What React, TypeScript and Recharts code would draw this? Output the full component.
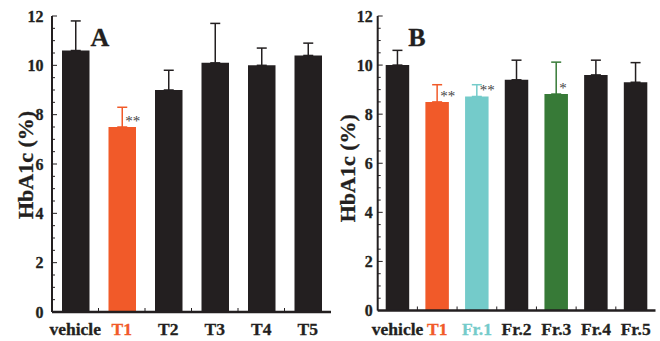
import React from 'react';
import { BarChart, Bar, XAxis, YAxis, ErrorBar, LabelList } from 'recharts';

// ---------- data ----------
const catsA = ['vehicle', 'T1', 'T2', 'T3', 'T4', 'T5'];
const meanA = [10.6, 7.5, 9.0, 10.1, 10.0, 10.4];
const errA = [1.2, 0.8, 0.8, 1.6, 0.7, 0.5];
const barColorA = ['k', 'o', 'k', 'k', 'k', 'k'];
const labelColorA = ['k', 'o', 'k', 'k', 'k', 'k'];
const sigA = ['', '**', '', '', '', ''];

const catsB = ['vehicle', 'T1', 'Fr.1', 'Fr.2', 'Fr.3', 'Fr.4', 'Fr.5'];
const meanB = [10.0, 8.5, 8.72, 9.4, 8.82, 9.6, 9.3];
const errB = [0.6, 0.7, 0.48, 0.8, 1.3, 0.6, 0.8];
const barColorB = ['k', 'o', 'c', 'k', 'g', 'k', 'k'];
const labelColorB = ['k', 'o', 'c', 'k', 'k', 'k', 'k'];
const sigB = ['', '**', '**', '', '*', '', ''];

const yTicks = [0, 0.5, 1, 1.5, 2, 2.5, 3, 3.5, 4, 4.5, 5, 5.5, 6, 6.5, 7, 7.5, 8, 8.5, 9, 9.5, 10, 10.5, 11, 11.5, 12];
const majorTicks = [0, 2, 4, 6, 8, 10, 12];

const COLORS: Record<string, string> = {
  k: '#231f20',
  o: '#f15a29',
  c: '#74cbca',
  g: '#377a37',
};

const FONT = "'Liberation Serif', 'Times New Roman', serif";

type PanelProps = {
  cats: string[];
  means: number[];
  errs: number[];
  barColors: string[];
  labelColors: string[];
  sigs: string[];
  letter: string;
  width: number;
  margin: { top: number; right: number; left: number; bottom: number };
  barSize: number;
  tickGap: number;
  titleDx: number;
  titleDy: number;
  letterX: number;
  xLabelDy: number;
};

function Panel(p: PanelProps) {
  const height = 341;
  const groups = Array.from(new Set(p.barColors));
  const data = p.cats.map((c, i) => {
    const row: any = { name: c, sig: p.sigs[i] };
    groups.forEach((g) => {
      if (p.barColors[i] === g) {
        row[g] = p.means[i];
        row[g + 'Err'] = [0, p.errs[i]];
      }
    });
    return row;
  });
  const yAxisW = 40;
  const plotW = p.width - p.margin.left - p.margin.right - yAxisW;
  const band = plotW / p.cats.length;

  const YTick = (props: any) => {
    const { x, y, payload } = props;
    const v = payload.value;
    const major = majorTicks.includes(v);
    return (
      <g>
        <line x1={x} x2={x + (major ? 5 : 3)} y1={y} y2={y} stroke="#231f20" strokeWidth={1} />
        {major && (
          <text
            x={x - p.tickGap}
            y={y + 5.5}
            textAnchor="end"
            fontFamily={FONT}
            fontWeight="bold"
            fontSize={16}
            fill="#231f20"
            stroke="#231f20"
            strokeWidth={0.3}
          >
            {v}
          </text>
        )}
      </g>
    );
  };

  const XTick = (props: any) => {
    const { x, y, payload, index } = props;
    const lc = COLORS[p.labelColors[index]] || COLORS.k;
    return (
      <g>
        {index < p.cats.length - 1 && (
          <line x1={x + band / 2} x2={x + band / 2} y1={y} y2={y - 4} stroke="#231f20" strokeWidth={1} />
        )}
        <text
          x={x}
          y={y + p.xLabelDy}
          textAnchor="middle"
          fontFamily={FONT}
          fontWeight="bold"
          fontSize={17.5}
          fill={lc}
          stroke={lc}
          strokeWidth={0.3}
        >
          {payload.value}
        </text>
      </g>
    );
  };

  const renderTitle = (props: any) => {
    const vb = props.viewBox || {};
    const cx = vb.x + p.titleDx;
    const cy = vb.y + vb.height / 2 + p.titleDy;
    return (
      <g>
        <text
          x={cx}
          y={cy}
          transform={`rotate(-90, ${cx}, ${cy})`}
          textAnchor="middle"
          fontFamily={FONT}
          fontWeight="bold"
          fontSize={22}
          fill="#231f20"
          stroke="#231f20"
          strokeWidth={0.3}
        >
          HbA1c (%)
        </text>
        <text
          x={vb.x + vb.width + p.letterX}
          y={46}
          fontFamily={FONT}
          fontWeight="bold"
          fontSize={26}
          fill="#231f20"
          stroke="#231f20"
          strokeWidth={0.3}
        >
          {p.letter}
        </text>
      </g>
    );
  };

  const renderSig = (props: any) => {
    const { x, y, width, value, height } = props;
    if (!value || !height) return null;
    return (
      <text x={x + width / 2 + 3} y={y - 1} fontFamily={FONT} fontSize={15} fill="#444">
        {value}
      </text>
    );
  };

  return (
    <BarChart width={p.width} height={height} data={data} margin={p.margin} barSize={p.barSize}>
      <XAxis
        dataKey="name"
        type="category"
        height={25}
        tickSize={0}
        tickMargin={0}
        interval={0}
        tick={XTick}
        axisLine={{ stroke: '#231f20', strokeWidth: 2.5 }}
        tickLine={false}
      />
      <XAxis xAxisId="top" orientation="top" dataKey="name" height={0} tick={false} tickLine={false} axisLine={{ stroke: '#231f20', strokeWidth: 2 }} />
      <YAxis
        type="number"
        domain={[0, 12]}
        ticks={yTicks}
        interval={0}
        width={yAxisW}
        tickSize={0}
        tickMargin={0}
        tick={YTick}
        tickLine={false}
        axisLine={{ stroke: '#231f20', strokeWidth: 2 }}
        label={renderTitle}
      />
      <YAxis yAxisId="right" orientation="right" domain={[0, 12]} width={0} tick={false} tickLine={false} axisLine={{ stroke: '#231f20', strokeWidth: 2 }} />
      {groups.map((g) => (
        <Bar key={g} dataKey={g} stackId="s" fill={COLORS[g]} isAnimationActive={false}>
          <ErrorBar dataKey={g + 'Err'} direction="y" width={5} stroke={COLORS[g]} strokeWidth={1.5} />
          <LabelList dataKey="sig" content={renderSig} />
        </Bar>
      ))}
    </BarChart>
  );
}

export default function App() {
  return (
    <div style={{ position: 'absolute', left: 0, top: 0, width: 660, height: 341, background: '#fff' }}>
      <div style={{ position: 'absolute', left: 0, top: 0 }}>
        <Panel
          cats={catsA}
          means={meanA}
          errs={errA}
          barColors={barColorA}
          labelColors={labelColorA}
          sigs={sigA}
          letter="A"
          width={340}
          margin={{ top: 16, right: 9, left: 12, bottom: 4 }}
          barSize={27.5}
          tickGap={8.5}
          titleDx={20.5}
          titleDy={1}
          letterX={38.5}
          xLabelDy={23}
        />
      </div>
      <div style={{ position: 'absolute', left: 330, top: 0 }}>
        <Panel
          cats={catsB}
          means={meanB}
          errs={errB}
          barColors={barColorB}
          labelColors={labelColorB}
          sigs={sigB}
          letter="B"
          width={330}
          margin={{ top: 16, right: 4.5, left: 7.7, bottom: 5.5 }}
          barSize={23.5}
          tickGap={5}
          titleDx={17.5}
          titleDy={5}
          letterX={30.5}
          xLabelDy={24}
        />
      </div>
    </div>
  );
}
